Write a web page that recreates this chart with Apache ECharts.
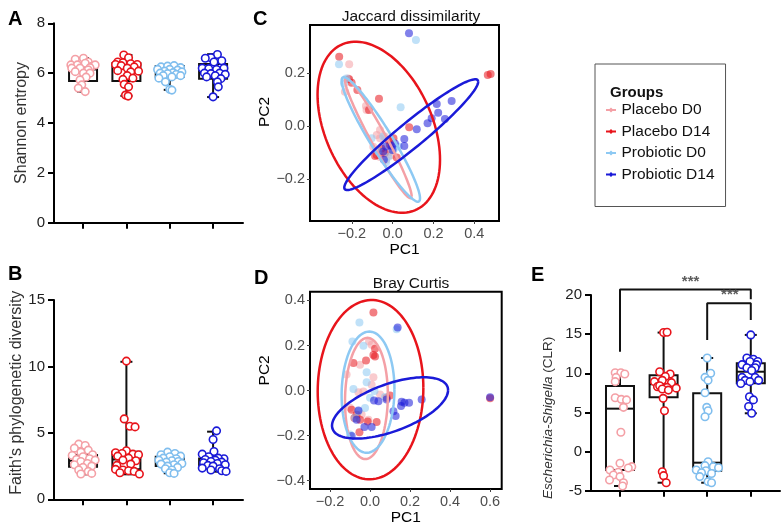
<!DOCTYPE html>
<html>
<head>
<meta charset="utf-8">
<script src="https://cdn.jsdelivr.net/npm/echarts@6/dist/echarts.min.js"></script>
<style>
  html, body { margin: 0; padding: 0; background: #fff; }
  #chart { width: 784px; height: 528px; }
</style>
</head>
<body>
<div id="chart"></div>
<script>
const FONT = "'Liberation Sans', Arial, sans-serif";

const groups = ['Placebo D0', 'Placebo D14', 'Probiotic D0', 'Probiotic D14'];
const boxColors = ['#F4A0A6', '#E8141B', '#80BEEE', '#1A1AD8'];
const pcColors = ['#F4A0A6', '#E8141B', '#8DC9F3', '#1A1AD8'];

// box stats: [min, q1, median, q3, max]
const shannonBox = [[5.26, 5.69, 6.15, 6.27, 6.6], [5.09, 5.69, 6.3, 6.4, 6.73], [5.33, 5.86, 6.05, 6.29, 6.3], [5.04, 5.78, 6.02, 6.37, 6.76]];
const faithBox = [[1.88, 2.45, 2.9, 3.33, 4.14], [1.88, 2.26, 3.0, 3.58, 10.35], [1.96, 2.5, 2.85, 3.2, 3.53], [2.08, 2.45, 2.75, 3.08, 5.09]];
const esBox = [[-4.4, -2.36, 5.48, 8.37, 10.08], [-3.98, 6.93, 8.6, 9.74, 15.2], [-3.98, -2.44, -1.42, 7.44, 11.95], [4.89, 8.72, 10.2, 11.27, 14.9]];

// points: [jitter, value]
const shannonPts = [
  [[-0.18, 6.56], [0.01, 6.6], [0.12, 6.45], [-0.28, 6.33], [-0.13, 6.33], [0.05, 6.4], [0.2, 6.27], [0.28, 6.33], [-0.07, 6.2], [0.16, 6.22], [-0.26, 6.2], [0.12, 6.13], [0.01, 6.0], [-0.18, 6.06], [0.16, 6.0], [0.07, 5.84], [-0.07, 5.73], [-0.03, 5.53], [-0.11, 5.4], [0.05, 5.26]],
  [[-0.06, 6.73], [0.05, 6.62], [-0.2, 6.45], [-0.08, 6.42], [0.1, 6.38], [0.25, 6.35], [-0.25, 6.35], [0.18, 6.25], [-0.12, 6.3], [0.02, 6.2], [0.28, 6.08], [-0.2, 6.1], [0.1, 6.05], [0.02, 5.9], [-0.08, 5.75], [0.15, 5.8], [-0.05, 5.55], [0.05, 5.45], [-0.02, 5.12], [0.04, 5.08]],
  [[-0.2, 6.25], [-0.05, 6.28], [0.1, 6.3], [0.25, 6.22], [-0.28, 6.15], [0.18, 6.12], [0.0, 6.15], [-0.12, 6.08], [0.28, 6.05], [0.08, 6.02], [-0.22, 6.0], [-0.05, 5.98], [0.15, 5.95], [0.25, 5.9], [-0.15, 5.9], [0.05, 5.85], [-0.25, 5.8], [-0.1, 5.65], [0.0, 5.35], [0.05, 5.32]],
  [[0.1, 6.75], [-0.05, 6.62], [-0.18, 6.6], [0.2, 6.5], [0.02, 6.45], [-0.25, 6.2], [0.25, 6.2], [-0.1, 6.18], [0.08, 6.15], [-0.2, 6.0], [0.15, 6.0], [0.28, 5.95], [-0.05, 5.98], [0.05, 5.9], [-0.15, 5.85], [0.18, 5.78], [0.1, 5.65], [0.12, 5.45], [0.0, 5.05]]
];
const faithPts = [
  [[-0.1, 4.15], [0.05, 4.05], [-0.2, 3.85], [0.12, 3.7], [-0.05, 3.55], [0.22, 3.35], [-0.25, 3.3], [0.0, 3.2], [0.15, 3.05], [-0.15, 3.0], [0.28, 2.95], [-0.05, 2.85], [0.1, 2.7], [-0.2, 2.6], [0.2, 2.5], [0.0, 2.4], [-0.1, 2.2], [0.12, 2.1], [0.2, 1.95], [-0.05, 1.9]],
  [[0.0, 10.4], [-0.05, 6.05], [0.08, 5.5], [0.2, 5.45], [0.0, 3.65], [-0.25, 3.5], [-0.1, 3.45], [0.15, 3.4], [0.28, 3.35], [-0.2, 3.25], [0.05, 3.1], [-0.08, 2.95], [0.22, 2.9], [0.1, 2.65], [-0.22, 2.55], [-0.25, 2.25], [-0.08, 2.2], [0.05, 2.15], [0.18, 2.1], [-0.15, 2.0], [0.3, 1.9]],
  [[-0.05, 3.55], [0.12, 3.45], [-0.2, 3.35], [0.25, 3.25], [0.0, 3.2], [-0.15, 3.1], [0.15, 3.05], [-0.25, 2.95], [0.05, 2.9], [0.2, 2.85], [-0.08, 2.8], [0.28, 2.7], [-0.2, 2.65], [0.1, 2.6], [-0.05, 2.5], [0.18, 2.4], [-0.1, 2.3], [0.05, 2.2], [0.0, 2.0], [0.1, 1.95]],
  [[0.08, 5.15], [0.0, 4.5], [0.02, 3.6], [-0.25, 3.4], [0.25, 3.05], [-0.1, 3.2], [0.12, 3.1], [-0.18, 3.0], [0.05, 2.95], [-0.05, 2.85], [0.2, 2.8], [-0.22, 2.75], [0.1, 2.7], [0.28, 2.6], [-0.12, 2.55], [0.0, 2.5], [-0.25, 2.35], [0.15, 2.3], [-0.05, 2.2], [0.2, 2.15], [0.3, 2.1]]
];
const esPts = [
  [[-0.11, 10.07], [0.02, 10.07], [0.11, 9.9], [-0.09, 9.48], [-0.11, 8.93], [-0.11, 6.88], [0.03, 6.67], [0.15, 6.6], [0.08, 5.65], [0.02, 2.46], [0, -1.5], [0.27, -1.93], [0.19, -2.1], [-0.23, -2.36], [-0.04, -2.65], [-0.15, -2.99], [0, -3.2], [-0.24, -3.63], [0.08, -3.98], [0.06, -4.4]],
  [[0, 15.2], [0.08, 15.25], [-0.09, 10.2], [0.15, 9.9], [0.04, 9.6], [-0.21, 8.93], [-0.03, 9.1], [0.18, 8.8], [-0.14, 8.29], [0.08, 8.2], [0.29, 8.1], [-0.09, 8.4], [-0.03, 8.0], [0.11, 7.85], [-0.01, 6.8], [0.02, 5.22], [-0.03, -2.57], [0, -3.08], [0.06, -3.98]],
  [[0, 11.95], [0.08, 10.0], [-0.05, 9.48], [0.02, 9.1], [-0.05, 7.52], [-0.01, 5.65], [0.02, 5.22], [-0.05, 4.45], [0.02, -1.3], [-0.05, -1.8], [0.14, -1.93], [0.26, -2.06], [-0.25, -2.36], [-0.03, -2.45], [-0.13, -2.7], [0.1, -2.8], [-0.17, -3.2], [0.02, -3.84], [0.1, -3.98]],
  [[0, 14.9], [-0.09, 11.95], [0.06, 11.8], [0.16, 11.5], [-0.02, 11.5], [-0.2, 11.1], [0.13, 11.1], [-0.09, 10.7], [0.1, 10.7], [0.02, 10.35], [-0.2, 9.48], [0.1, 9.48], [0.18, 9.1], [-0.13, 9.1], [-0.02, 8.93], [-0.23, 8.7], [-0.03, 7.0], [0.06, 6.6], [-0.05, 5.75], [0.02, 4.9]]
];

// significance brackets in panel E
const bracketPaths = [[[0, 12.76], [0, 20.7], [3, 20.7], [3, 19.45]], [[2, 14.25], [2, 18.94], [3, 18.94], [3, 16.8]]];
const bracketStars = [[1.62, 20.7], [2.52, 18.94]];

// PCoA points [PC1, PC2]
const jaccardPts = [
  [[-0.213, 0.235], [-0.218, 0.181], [-0.234, 0.131], [-0.131, 0.077], [-0.128, 0.062], [-0.062, -0.013], [-0.078, -0.032], [-0.062, -0.045], [-0.039, -0.038], [-0.095, -0.077], [-0.013, -0.096], [-0.005, -0.109], [-0.062, -0.115], [-0.032, -0.126]],
  [[-0.262, 0.263], [-0.213, 0.178], [-0.173, 0.138], [-0.067, 0.105], [-0.201, 0.165], [-0.116, 0.062], [0.081, -0.003], [0.466, 0.194], [0.48, 0.198], [-0.021, -0.051], [-0.013, -0.07], [-0.078, -0.108], [-0.086, -0.112], [0.02, -0.117], [-0.039, -0.101], [0.004, -0.045], [-0.055, -0.083]],
  [[0.114, 0.326], [-0.263, 0.235], [-0.227, 0.181], [-0.238, 0.162], [0.039, 0.072], [-0.103, -0.045], [-0.046, -0.038], [-0.021, -0.114], [-0.032, -0.135], [-0.07, -0.095], [0.004, -0.089], [0.029, -0.076]],
  [[0.08, 0.352], [0.289, 0.096], [0.216, 0.085], [0.223, 0.052], [0.191, 0.031], [0.256, 0.028], [0.171, 0.012], [0.118, -0.011], [0.057, -0.047], [0.057, -0.074], [0.011, -0.064], [-0.005, -0.074], [-0.033, -0.076], [-0.046, -0.095], [-0.043, -0.126], [-0.001, -0.089]]
];
const brayPts = [
  [[-0.005, 0.218], [0.008, 0.204], [-0.05, 0.115], [0.017, 0.059], [0.008, 0.026], [-0.033, -0.004], [-0.058, -0.007], [-0.1, -0.076], [-0.042, -0.106], [-0.008, -0.129], [-0.117, 0.071], [0.05, -0.017]],
  [[0.017, 0.347], [0.025, 0.186], [0.017, 0.158], [0.025, 0.151], [-0.02, 0.133], [-0.083, 0.122], [0.1, -0.022], [0.083, -0.032], [-0.092, -0.085], [-0.078, -0.122], [-0.05, -0.129], [-0.012, -0.137], [0.033, -0.14], [-0.053, -0.185], [0.6, -0.034], [-0.067, -0.107]],
  [[-0.053, 0.302], [-0.088, 0.218], [-0.033, 0.199], [-0.017, 0.081], [-0.083, 0.007], [-0.017, 0.037], [0.022, -0.002], [0.075, -0.029], [0, -0.032], [-0.075, -0.122], [-0.058, -0.092], [-0.1, -0.195], [0.133, 0.272], [-0.025, -0.077]],
  [[0.138, 0.28], [0.02, -0.044], [0.042, -0.047], [0.083, -0.04], [0.158, -0.05], [0.172, -0.054], [0.195, -0.054], [0.155, -0.069], [0.258, -0.04], [0.117, -0.092], [0.128, -0.113], [-0.058, -0.089], [-0.067, -0.129], [-0.028, -0.162], [0.008, -0.162], [-0.092, -0.202], [0.6, -0.03]]
];

// ellipses: [centre PC1, centre PC2, half width, half height, correlation]
const jaccardEllipses = [[-0.07, -0.045, 0.163, 0.226, -0.965], [-0.068, -0.003, 0.30, 0.323, -0.38], [-0.058, -0.049, 0.192, 0.235, -0.945], [0.091, -0.031, 0.328, 0.209, 0.955]];
const brayEllipses = [[-0.018, -0.035, 0.107, 0.269, 0.05], [0.0025, 0.004, 0.264, 0.398, 0.02], [-0.01, -0.007, 0.132, 0.269, 0.05], [0.1, -0.077, 0.29, 0.136, 0.58]];

const jaccardXTicks = [-0.2, 0, 0.2, 0.4];
const jaccardYTicks = [-0.2, 0, 0.2];
const brayXTicks = [-0.2, 0, 0.2, 0.4, 0.6];
const brayYTicks = [-0.4, -0.2, 0, 0.2, 0.4];

const chart = echarts.init(document.getElementById('chart'));

function fmt(v) {
  return (v < -1e-9 ? '\u2212' : '') + Math.abs(v).toFixed(1);
}

function boxItem(params, api) {
  const x = api.value(0);
  const p = [1, 2, 3, 4, 5].map((k) => api.coord([x, api.value(k)]));
  const cx = p[0][0];
  const st = { stroke: '#111', lineWidth: 2, fill: null };
  const hw = 14, cw = 6;
  return {
    type: 'group',
    children: [
      { type: 'line', shape: { x1: cx, y1: p[3][1], x2: cx, y2: p[4][1] }, style: st },
      { type: 'line', shape: { x1: cx, y1: p[0][1], x2: cx, y2: p[1][1] }, style: st },
      { type: 'line', shape: { x1: cx - cw, y1: p[4][1], x2: cx + cw, y2: p[4][1] }, style: st },
      { type: 'line', shape: { x1: cx - cw, y1: p[0][1], x2: cx + cw, y2: p[0][1] }, style: st },
      { type: 'rect', shape: { x: cx - hw, y: p[3][1], width: hw * 2, height: p[1][1] - p[3][1] }, style: st },
      { type: 'line', shape: { x1: cx - hw, y1: p[2][1], x2: cx + hw, y2: p[2][1] }, style: st }
    ]
  };
}

function ellipseItem(params, api) {
  const cx = api.value(0), cy = api.value(1), sx = api.value(2), sy = api.value(3), r = api.value(4);
  const k = Math.sqrt(1 - r * r);
  const points = [];
  for (let i = 0; i <= 120; i++) {
    const t = (i / 120) * Math.PI * 2;
    points.push(api.coord([cx + sx * Math.cos(t), cy + sy * (r * Math.cos(t) + k * Math.sin(t))]));
  }
  return { type: 'polyline', shape: { points }, style: { fill: null, stroke: pcColors[api.value(5)], lineWidth: 2.5 } };
}

function boxXAxis(gi, min, max) {
  return {
    gridIndex: gi, type: 'value', min, max,
    axisLine: { show: true, onZero: false, lineStyle: { color: '#000', width: 2 } },
    axisTick: { show: true, customValues: [0, 1, 2, 3], length: 6, lineStyle: { color: '#000', width: 2 } },
    axisLabel: { show: false, customValues: [0, 1, 2, 3] },
    splitLine: { show: false }
  };
}

function boxYAxis(gi, min, max, interval, name, gap, pad, size) {
  return {
    gridIndex: gi, type: 'value', min, max, interval,
    axisLine: { show: true, onZero: false, lineStyle: { color: '#000', width: 2 } },
    axisTick: { show: true, length: 6, lineStyle: { color: '#000', width: 2 } },
    axisLabel: { fontSize: 15, color: '#222', margin: 9, fontFamily: FONT },
    splitLine: { show: false },
    name, nameLocation: 'middle', nameGap: gap,
    nameTextStyle: {
      fontSize: size, color: '#333', fontFamily: FONT, padding: pad,
      rich: { i: { fontStyle: 'italic', fontSize: size, color: '#333', fontFamily: FONT } }
    }
  };
}

function pcXAxis(gi, min, max, ticks, gap) {
  return {
    gridIndex: gi, type: 'value', min, max,
    axisLine: { show: false, onZero: false },
    axisTick: { show: true, customValues: ticks, length: 3, lineStyle: { color: '#444' } },
    axisLabel: { customValues: ticks, formatter: fmt, color: '#4d4d4d', fontSize: 14.5, margin: 5, fontFamily: FONT },
    splitLine: { show: false },
    name: 'PC1', nameLocation: 'middle', nameGap: gap,
    nameTextStyle: { fontSize: 15.5, color: '#000', fontFamily: FONT }
  };
}

function pcYAxis(gi, min, max, ticks, pad) {
  return {
    gridIndex: gi, type: 'value', min, max,
    axisLine: { show: false, onZero: false },
    axisTick: { show: true, customValues: ticks, length: 3, lineStyle: { color: '#444' } },
    axisLabel: { customValues: ticks, formatter: fmt, color: '#4d4d4d', fontSize: 14.5, margin: 5, fontFamily: FONT },
    splitLine: { show: false },
    name: 'PC2', nameLocation: 'middle', nameGap: 36,
    nameTextStyle: { fontSize: 15.5, color: '#000', fontFamily: FONT, padding: pad }
  };
}

function boxSeries(gi, stats, pts) {
  const out = [{
    type: 'custom', xAxisIndex: gi, yAxisIndex: gi, silent: true, z: 2,
    renderItem: boxItem,
    data: stats.map((s, i) => [i, ...s])
  }];
  pts.forEach((list, i) => {
    out.push({
      type: 'scatter', xAxisIndex: gi, yAxisIndex: gi, silent: true, z: 3,
      symbol: 'circle', symbolSize: 7.5,
      itemStyle: { color: '#fff', borderColor: boxColors[i], borderWidth: 1.6, opacity: 1 },
      data: list.map((d) => [i + d[0], d[1]])
    });
  });
  return out;
}

function pcSeries(gi, pts, ells) {
  const out = pts.map((list, i) => ({
    type: 'scatter', name: groups[i], xAxisIndex: gi, yAxisIndex: gi, silent: true, z: 2,
    symbolSize: 8,
    itemStyle: { color: pcColors[i], opacity: 0.55 },
    data: list
  }));
  out.push({
    type: 'custom', xAxisIndex: gi, yAxisIndex: gi, silent: true, z: 4,
    renderItem: ellipseItem,
    data: ells.map((e, i) => [...e, i])
  });
  return out;
}

const titleStyle = { fontSize: 20, fontWeight: 'bold', color: '#000', fontFamily: FONT };

const option = {
  animation: false,
  backgroundColor: '#fff',
  title: [
    { text: 'A', left: 3, top: 4, textStyle: titleStyle },
    { text: 'B', left: 3, top: 259, textStyle: titleStyle },
    { text: 'C', left: 248, top: 4, textStyle: titleStyle },
    { text: 'D', left: 249, top: 263, textStyle: titleStyle },
    { text: 'E', left: 526, top: 260, textStyle: titleStyle },
    { text: 'Jaccard dissimilarity', left: 406, top: 4, textAlign: 'center', textStyle: { fontSize: 15.5, fontWeight: 'normal', color: '#111', fontFamily: FONT } },
    { text: 'Bray Curtis', left: 406, top: 271, textAlign: 'center', textStyle: { fontSize: 15.5, fontWeight: 'normal', color: '#111', fontFamily: FONT } },
    { text: 'Groups', left: 605, top: 80, textStyle: { fontSize: 15, fontWeight: 'bold', color: '#111', fontFamily: FONT } }
  ],
  legend: {
    left: 595, top: 64, orient: 'vertical', selectedMode: false,
    padding: [38, 11, 24, 11], itemGap: 5.5, itemWidth: 11, itemHeight: 5,
    icon: 'path://M0,4 L3.5,4 L5,2.5 L6.5,4 L10,4 L10,6 L6.5,6 L5,7.5 L3.5,6 L0,6 Z',
    borderColor: '#555', borderWidth: 1,
    textStyle: { fontSize: 15.5, color: '#111', fontFamily: FONT },
    data: groups.map((g, i) => ({ name: g, itemStyle: { color: pcColors[i], opacity: 1 } }))
  },
  grid: [
    { left: 54, top: 23.3, width: 189, height: 199.4, outerBoundsMode: 'none' },
    { left: 54, top: 300, width: 189, height: 199.3, outerBoundsMode: 'none' },
    { left: 310, top: 25, width: 189, height: 196, show: true, borderColor: '#000', borderWidth: 2, outerBoundsMode: 'none' },
    { left: 310, top: 291.7, width: 191.7, height: 197.3, show: true, borderColor: '#000', borderWidth: 2, outerBoundsMode: 'none' },
    { left: 591, top: 295, width: 189, height: 195.7, outerBoundsMode: 'none' }
  ],
  xAxis: [
    boxXAxis(0, -0.67, 3.69),
    boxXAxis(1, -0.67, 3.69),
    pcXAxis(2, -0.405, 0.521, jaccardXTicks, 18),
    pcXAxis(3, -0.30, 0.658, brayXTicks, 20),
    boxXAxis(4, -0.665, 3.67)
  ],
  yAxis: [
    boxYAxis(0, 0, 8, 2, 'Shannon entropy', 24, [0, 0, 0, 0], 16),
    boxYAxis(1, 0, 15, 5, "Faith's phylogenetic diversity", 26, [0, 0, 0, 14], 16),
    pcYAxis(2, -0.357, 0.383, jaccardYTicks, [0, 0, 0, 22]),
    pcYAxis(3, -0.437, 0.439, brayYTicks, [0, 0, 0, 40]),
    boxYAxis(4, -5, 20, 5, '{i|Escherichia-Shigella} (CLR)', 36, [0, 50, 0, 0], 13.5)
  ],
  series: [
    ...boxSeries(0, shannonBox, shannonPts),
    ...boxSeries(1, faithBox, faithPts),
    ...boxSeries(4, esBox, esPts),
    ...pcSeries(2, jaccardPts, jaccardEllipses),
    ...pcSeries(3, brayPts, brayEllipses),
    ...bracketPaths.map((path) => ({
      type: 'line', xAxisIndex: 4, yAxisIndex: 4, silent: true, clip: false, symbol: 'none',
      lineStyle: { color: '#111', width: 2 },
      data: path
    })),
    {
      type: 'scatter', xAxisIndex: 4, yAxisIndex: 4, silent: true, clip: false, z: 5,
      symbolSize: 1, itemStyle: { color: 'rgba(0,0,0,0)' },
      label: { show: true, position: 'top', distance: 0, formatter: '***', fontSize: 15, fontWeight: 'bold', color: '#333', fontFamily: FONT },
      data: bracketStars
    }
  ]
};

chart.setOption(option);
</script>
</body>
</html>
